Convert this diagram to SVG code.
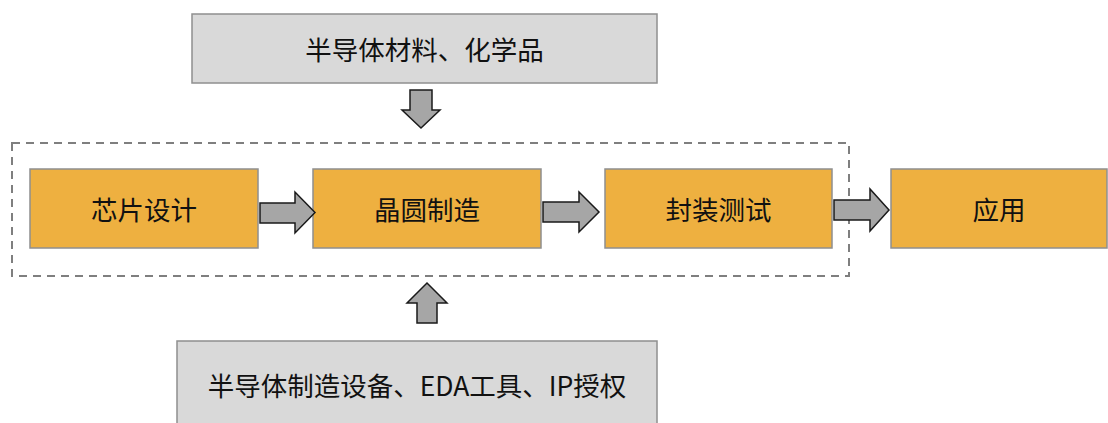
<svg xmlns="http://www.w3.org/2000/svg" width="1108" height="423" viewBox="0 0 1108 423">
<style>
.gray{fill:#d9d9d9;stroke:#8f8f8f;stroke-width:1.5}
.orange{fill:#eeb040;stroke:#8f8f8f;stroke-width:1.5}
.arrow{fill:#a6a6a6;stroke:#1a1a1a;stroke-width:1.5;stroke-linejoin:miter}
.dash{fill:none;stroke:#7f7f7f;stroke-width:2;stroke-dasharray:8 6}
text{font-family:"Noto Sans CJK SC","Microsoft YaHei",sans-serif;font-size:26.5px;fill:#111;text-anchor:middle;dominant-baseline:central}
</style>
<rect id="container" class="dash" x="12" y="143" width="837" height="133"/>
<g id="top"><rect class="gray" x="192" y="14" width="465" height="69"/><text x="424.5" y="48">半导体材料、化学品</text></g>
<g id="design"><rect class="orange" x="30" y="169" width="228" height="79"/><text x="144" y="208.5">芯片设计</text></g>
<g id="fab"><rect class="orange" x="313" y="169" width="228" height="79"/><text x="427" y="208.5">晶圆制造</text></g>
<g id="pack"><rect class="orange" x="605" y="169" width="227" height="79"/><text x="718.5" y="208.5">封装测试</text></g>
<g id="app"><rect class="orange" x="891" y="169" width="216" height="79"/><text x="999" y="208.5">应用</text></g>
<g id="bottom"><rect class="gray" x="177" y="341" width="480" height="90"/><text x="417" y="384">半导体制造设备、EDA工具、IP授权</text></g>
<g id="connectors">
<polygon class="arrow" points="410,90 432,90 432,110 440,110 421,128 402,110 410,110"/>
<polygon class="arrow" points="260,203 295,203 295,192 315,212.5 295,233 295,223 260,223"/>
<polygon class="arrow" points="543,202 579,202 579,192 599,212 579,232 579,222 543,222"/>
<polygon class="arrow" points="834,200 870,200 870,189 889,210 870,231 870,220 834,220"/>
<polygon class="arrow" points="417,323 437,323 437,303 447,303 427,283 407,303 417,303"/>
</g>
</svg>
